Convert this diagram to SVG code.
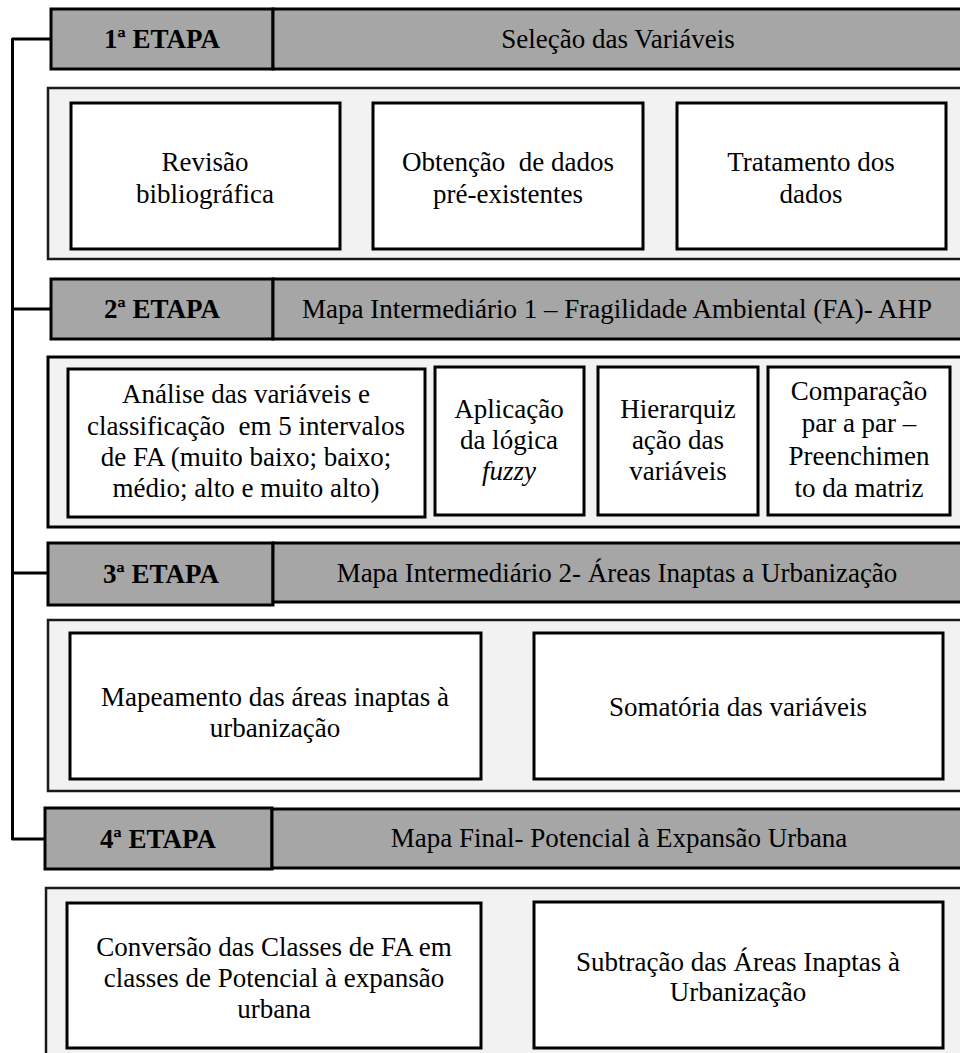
<svg xmlns="http://www.w3.org/2000/svg" width="960" height="1053" viewBox="0 0 960 1053">
<style>
.hd{fill:#a6a6a6;stroke:#000;stroke-width:3}
.pn{fill:#f2f2f2;stroke:#1a1a1a;stroke-width:2.5}
.bx{fill:#fff;stroke:#000;stroke-width:3}
text{font-family:"Liberation Serif","Times New Roman",serif;font-size:27px;fill:#000;text-anchor:middle}
.b{font-weight:bold}
.con{stroke:#000;stroke-width:3;fill:none}
</style>
<rect width="960" height="1053" fill="#fff"/>
<g id="connectors">
<path class="con" d="M51 39 H12.5 V839 H45" stroke-linejoin="round"/>
<path class="con" d="M12.5 309 H51"/>
<path class="con" d="M12.5 573 H48"/>
<path class="con" d="M340 178 H373 M643 178 H677"/>
<path class="con" d="M425 443 H435 M584 443 H598 M758 443 H768"/>
<path class="con" d="M481 706 H534"/>
<path class="con" d="M481 976 H534"/>
</g>
<g id="etapa1">
<rect class="hd" x="51" y="9" width="222" height="60"/>
<rect class="hd" x="273" y="9" width="700" height="60"/>
<text class="b" x="162" y="48">1ª ETAPA</text>
<text x="618" y="48">Seleção das Variáveis</text>
</g>
<g id="panel1"><rect class="pn" x="48" y="88" width="925" height="171"/></g>
<g id="n-revisao"><rect class="bx" x="71" y="103" width="269" height="146"/>
<text x="205" y="171">Revisão</text><text x="205" y="203">bibliográfica</text></g>
<g id="n-obtencao"><rect class="bx" x="373" y="103" width="270" height="146"/>
<text x="508" y="171" style="white-space:pre">Obtenção  de dados</text><text x="508" y="203">pré-existentes</text></g>
<g id="n-tratamento"><rect class="bx" x="677" y="103" width="269" height="146"/>
<text x="811" y="171">Tratamento dos</text><text x="811" y="203">dados</text></g>

<g id="etapa2">
<rect class="hd" x="51" y="279" width="222" height="60"/>
<rect class="hd" x="273" y="279" width="700" height="60"/>
<text class="b" x="162" y="318">2ª ETAPA</text>
<text x="617" y="318">Mapa Intermediário 1 – Fragilidade Ambiental (FA)- AHP</text>
</g>
<g id="panel2"><rect class="pn" x="48" y="357" width="925" height="170" style="stroke:#000;stroke-width:3"/></g>
<g id="n-analise"><rect class="bx" x="68" y="369" width="357" height="148"/>
<text x="246" y="403">Análise das variáveis e</text>
<text x="246" y="435" style="white-space:pre">classificação  em 5 intervalos</text>
<text x="246" y="466">de FA (muito baixo; baixo;</text>
<text x="246" y="497">médio; alto e muito alto)</text></g>
<g id="n-fuzzy"><rect class="bx" x="435" y="367" width="149" height="148"/>
<text x="509" y="418">Aplicação</text><text x="509" y="449">da lógica</text><text x="509" y="480" font-style="italic">fuzzy</text></g>
<g id="n-hierarq"><rect class="bx" x="598" y="367" width="160" height="148"/>
<text x="678" y="418">Hierarquiz</text><text x="678" y="449">ação das</text><text x="678" y="480">variáveis</text></g>
<g id="n-compar"><rect class="bx" x="768" y="367" width="182" height="148"/>
<text x="859" y="400">Comparação</text><text x="859" y="432">par a par –</text><text x="859" y="465">Preenchimen</text><text x="859" y="497">to da matriz</text></g>

<g id="etapa3">
<rect class="hd" x="48" y="543" width="225" height="62"/>
<rect class="hd" x="273" y="543" width="700" height="59"/>
<text class="b" x="161" y="583">3ª ETAPA</text>
<text x="617" y="582">Mapa Intermediário 2- Áreas Inaptas a Urbanização</text>
</g>
<g id="panel3"><rect class="pn" x="48" y="620" width="925" height="171"/></g>
<g id="n-mapeamento"><rect class="bx" x="70" y="633" width="411" height="146"/>
<text x="275" y="706">Mapeamento das áreas inaptas à</text><text x="275" y="737">urbanização</text></g>
<g id="n-somatoria"><rect class="bx" x="534" y="633" width="409" height="146"/>
<text x="738" y="716">Somatória das variáveis</text></g>

<g id="etapa4">
<rect class="hd" x="45" y="808" width="227" height="61"/>
<rect class="hd" x="272" y="809" width="700" height="59"/>
<text class="b" x="158" y="848">4ª ETAPA</text>
<text x="619" y="847">Mapa Final- Potencial à Expansão Urbana</text>
</g>
<g id="panel4"><rect class="pn" x="46" y="888" width="927" height="180"/></g>
<g id="n-conversao"><rect class="bx" x="67" y="903" width="414" height="145"/>
<text x="274" y="956">Conversão das Classes de FA em</text><text x="274" y="987">classes de Potencial à expansão</text><text x="274" y="1018">urbana</text></g>
<g id="n-subtracao"><rect class="bx" x="534" y="902" width="409" height="146"/>
<text x="738" y="971">Subtração das Áreas Inaptas à</text><text x="738" y="1001">Urbanização</text></g>
</svg>
